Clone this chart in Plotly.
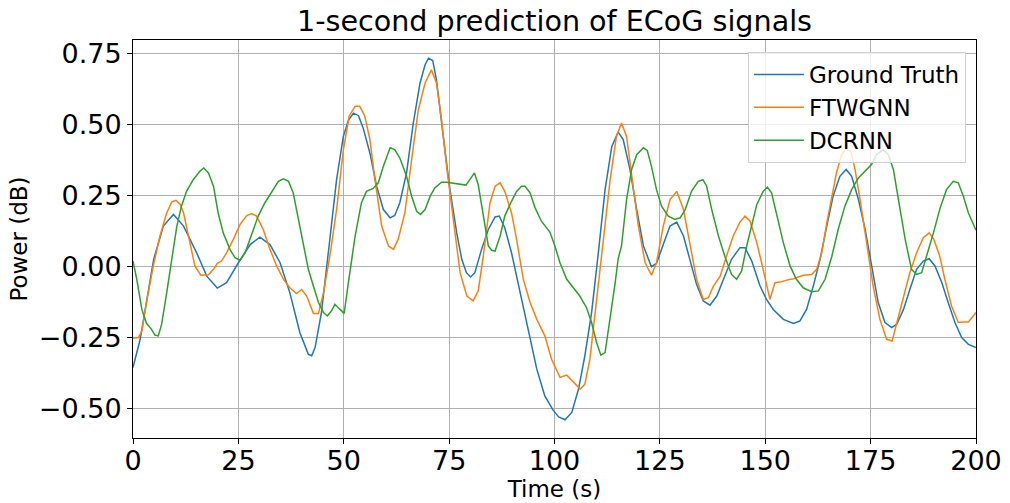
import plotly.graph_objects as go

# ---- data ----
gt_t = [0, 1.7, 3.3, 4.9, 7.2, 9.6, 12, 15.1, 17.5, 20, 22.2, 25, 27.8, 30.1, 32.5, 34.9, 37.2, 39.6,
        41.6, 42.4, 43.2, 44.7, 46.7, 48.3, 49.9, 51.1, 52.3, 53.5, 54.6, 56.2, 57.8, 59.4, 61, 62.1,
        63.3, 64.9, 66.5, 68.1, 69.3, 70.1, 71.1, 72.0, 73.6, 75.2, 76.8, 78, 79.1, 80.1, 81.1, 82.7,
        84.3, 85.9, 86.9, 88.2, 89.8, 91.8, 93.8, 95.8, 97.7, 99.7, 101, 102.5, 104.1, 105.7, 107.2,
        108.8, 110.4, 112, 113.6, 115.1, 116.3, 117.9, 119.5, 121.1, 123.0, 124.2, 125.8, 127.4, 129,
        130.6, 132.1, 133.7, 135.3, 136.9, 138.5, 140.1, 142, 144, 145.2, 146.8, 148.7, 150.3, 151.9,
        154.3, 156.7, 158.2, 159.8, 161.4, 163, 164.6, 166.1, 167.7, 169.2, 170.5, 172.1, 173.7, 175.2,
        176.8, 178.4, 180, 181.2, 182.8, 184.3, 185.9, 187.5, 188.9, 190.3, 191.9, 193.4, 195, 196.6,
        198.2, 200]
gt_v = [-0.354, -0.255, -0.115, 0.026, 0.143, 0.184, 0.143, 0.049, -0.033, -0.075, -0.056, 0.014, 0.078,
        0.104, 0.078, 0.014, -0.091, -0.232, -0.308, -0.313, -0.284, -0.161, 0.096, 0.306, 0.458, 0.515,
        0.540, 0.531, 0.488, 0.400, 0.283, 0.201, 0.172, 0.180, 0.225, 0.330, 0.505, 0.646, 0.710, 0.733,
        0.725, 0.657, 0.458, 0.271, 0.119, 0.026, -0.021, -0.036, -0.021, 0.061, 0.131, 0.175, 0.178,
        0.137, 0.049, -0.091, -0.232, -0.360, -0.454, -0.505, -0.528, -0.538, -0.512, -0.430, -0.313,
        -0.161, 0.049, 0.271, 0.423, 0.473, 0.447, 0.342, 0.201, 0.073, 0.0, 0.012, 0.078, 0.143, 0.157,
        0.108, 0.026, -0.062, -0.120, -0.135, -0.103, -0.044, 0.026, 0.067, 0.067, 0.020, -0.065, -0.115,
        -0.150, -0.185, -0.199, -0.191, -0.150, -0.068, 0.026, 0.143, 0.248, 0.318, 0.342, 0.318, 0.237,
        0.131, 0.002, -0.126, -0.196, -0.214, -0.202, -0.150, -0.080, -0.009, 0.020, 0.028, 0.002,
        -0.056, -0.126, -0.196, -0.249, -0.273, -0.284]

ft_t = [0, 1.3, 2.1, 3.2, 4.8, 6.4, 8.0, 9.2, 10.2, 11.2, 12.0, 13.1, 14.7, 16.1, 17.9, 19.1, 20, 21,
        22.2, 23.8, 25.4, 27.0, 28.2, 29.3, 30.9, 32.5, 34.1, 35.7, 37.2, 38.8, 40.0, 41.2, 42.8, 44,
        45.2, 46.7, 48.3, 49.9, 51.3, 52.7, 53.8, 55, 56.2, 57.4, 59, 60.6, 61.8, 62.9, 64.5, 66.1, 67.7,
        69.3, 70.8, 72, 73.2, 74.4, 76, 77.6, 79.2, 80.7, 81.9, 83.1, 84.7, 85.9, 87.1, 88.2, 89.8, 91,
        92.6, 94.2, 95.8, 97.7, 99.3, 100.1, 101.3, 102.9, 104.5, 106.1, 107.2, 108.4, 110, 111.6, 113.2,
        114.7, 115.9, 117.1, 118.3, 119.9, 121.5, 123.0, 124.2, 125.8, 127.4, 129, 130.6, 132.1, 133.7,
        135.3, 136.5, 137.7, 139.3, 140.8, 142.4, 144, 145.2, 146.4, 148, 149.5, 151.1, 152.3, 153.5,
        155.1, 156.7, 159, 161, 162.2, 163.4, 164.6, 165.8, 166.9, 168.1, 169.2, 170.3, 171.3, 172.5,
        174.1, 175.6, 177.2, 178.8, 180.1, 181.2, 182.8, 184.3, 185.9, 187.5, 188.9, 190, 191.4, 192.6,
        194.2, 195.8, 197, 198.2, 200]
ft_v = [-0.251, -0.249, -0.226, -0.126, 0.002, 0.108, 0.189, 0.228, 0.233, 0.219, 0.189, 0.108, 0.002,
        -0.030, -0.028, -0.009, 0.012, 0.020, 0.049, 0.096, 0.149, 0.180, 0.187, 0.178, 0.131, 0.061,
        0.002, -0.044, -0.074, -0.094, -0.080, -0.103, -0.164, -0.164, -0.091, 0.037, 0.201, 0.410,
        0.530, 0.564, 0.564, 0.529, 0.447, 0.306, 0.143, 0.073, 0.061, 0.096, 0.189, 0.376, 0.552, 0.646,
        0.692, 0.646, 0.517, 0.353, 0.166, -0.021, -0.103, -0.120, -0.085, 0.037, 0.225, 0.283, 0.295,
        0.265, 0.189, 0.096, -0.044, -0.126, -0.185, -0.243, -0.325, -0.349, -0.389, -0.381, -0.407,
        -0.430, -0.413, -0.325, -0.115, 0.096, 0.306, 0.458, 0.505, 0.458, 0.330, 0.143, 0.014, -0.030,
        0.014, 0.143, 0.236, 0.265, 0.201, 0.084, -0.044, -0.115, -0.109, -0.068, -0.033, 0.037, 0.108,
        0.157, 0.178, 0.160, 0.084, -0.009, -0.115, -0.056, -0.054, -0.047, -0.042, -0.030, -0.027,
        -0.009, 0.049, 0.154, 0.248, 0.330, 0.394, 0.414, 0.406, 0.342, 0.236, 0.073, -0.068, -0.185,
        -0.255, -0.261, -0.196, -0.103, -0.021, 0.049, 0.102, 0.119, 0.096, 0.037, -0.044, -0.138,
        -0.196, -0.194, -0.194, -0.161]

dc_t = [0, 0.9, 2.1, 3.2, 4.4, 5.2, 6.0, 6.8, 8, 9.2, 10.4, 11.5, 12.7, 14.3, 15.9, 16.8, 17.9, 19.1,
        20.2, 21.4, 23, 24.2, 25.4, 26.6, 28.2, 29.7, 31.3, 32.9, 34.5, 35.7, 36.9, 38.0, 39.2, 40.4,
        41.6, 42.8, 44, 45.2, 46.1, 47.1, 47.9, 49.1, 50.1, 51.1, 52.7, 54.2, 55.4, 57, 58.2, 59.4, 61,
        62.1, 63.3, 64.9, 66.1, 67.3, 68.2, 69.3, 70.5, 71.6, 73.2, 74.4, 76.8, 79, 79.9, 81, 81.9, 83.1,
        84.3, 85.1, 85.9, 87.1, 88.2, 89.8, 91, 92.2, 93, 94.2, 95.4, 96.9, 98.9, 100.1, 101.3, 102.9,
        104.5, 106.0, 107.6, 108.8, 110, 111.0, 112, 113.2, 114.4, 115.1, 115.9, 117.1, 118.3, 119.5,
        121.1, 122, 123.0, 124.2, 125.4, 127, 128.6, 129.8, 131, 132.5, 134.1, 135.2, 136.1, 137.3,
        138.9, 140.4, 142, 143.2, 144.4, 145.6, 146.8, 148, 149.5, 150.5, 151.5, 152.7, 154.3, 155.9,
        157.4, 159, 161, 162.6, 164.2, 165.8, 167.3, 168.9, 170.5, 172.1, 173.7, 175.2, 176.4, 178,
        179.2, 180.4, 181.6, 183.2, 184.7, 185.9, 187.1, 188.3, 189.9, 191.5, 193.0, 194.6, 195.8, 197,
        198.2, 200]
dc_v = [0.020, -0.044, -0.150, -0.199, -0.220, -0.240, -0.243, -0.202, -0.091, 0.026, 0.143, 0.213,
        0.265, 0.306, 0.336, 0.347, 0.330, 0.283, 0.189, 0.119, 0.061, 0.032, 0.023, 0.049, 0.119, 0.178,
        0.225, 0.265, 0.300, 0.309, 0.300, 0.260, 0.166, 0.073, -0.009, -0.068, -0.126, -0.161, -0.173,
        -0.155, -0.132, -0.150, -0.164, -0.056, 0.108, 0.225, 0.265, 0.275, 0.295, 0.353, 0.418, 0.412,
        0.382, 0.318, 0.248, 0.195, 0.184, 0.201, 0.248, 0.277, 0.297, 0.297, 0.292, 0.287, 0.306, 0.330,
        0.289, 0.178, 0.073, 0.058, 0.055, 0.108, 0.178, 0.230, 0.265, 0.283, 0.283, 0.260, 0.207, 0.160,
        0.122, 0.073, 0.014, -0.044, -0.074, -0.103, -0.144, -0.196, -0.267, -0.311, -0.302, -0.185,
        -0.056, 0.028, 0.073, 0.236, 0.342, 0.394, 0.418, 0.409, 0.353, 0.271, 0.213, 0.178, 0.166, 0.172,
        0.201, 0.265, 0.300, 0.306, 0.283, 0.201, 0.108, 0.037, -0.027, -0.044, -0.015, 0.073, 0.143,
        0.219, 0.265, 0.280, 0.260, 0.189, 0.084, 0.002, -0.044, -0.074, -0.088, -0.085, -0.044, 0.037,
        0.131, 0.213, 0.271, 0.312, 0.336, 0.359, 0.394, 0.412, 0.394, 0.342, 0.236, 0.096, -0.009,
        -0.027, -0.021, 0.037, 0.119, 0.207, 0.271, 0.300, 0.295, 0.248, 0.189, 0.128]

series_names = ["Ground Truth", "FTWGNN", "DCRNN"]
series_colors = ["#1f77b4", "#ff7f0e", "#2ca02c"]
x_ticks = [0, 25, 50, 75, 100, 125, 150, 175, 200]
y_ticks = [-0.5, -0.25, 0.0, 0.25, 0.5, 0.75]

FONT = "DejaVu Sans"

fig = go.Figure()
for name, color, t, v in zip(series_names, series_colors, [gt_t, ft_t, dc_t], [gt_v, ft_v, dc_v]):
    fig.add_trace(go.Scatter(x=t, y=v, mode="lines", name=name,
                             line=dict(color=color, width=1.5)))

axis_common = dict(showline=True, mirror=True, linecolor="black", linewidth=1,
                   ticks="outside", ticklen=5, tickcolor="black", tickwidth=1,
                   showgrid=True, gridcolor="#b0b0b0", gridwidth=1, zeroline=False,
                   automargin=False,
                   tickfont=dict(family=FONT, size=27, color="black"))

fig.update_layout(
    width=1010, height=503,
    margin=dict(l=133, r=34, t=40, b=65),
    paper_bgcolor="white", plot_bgcolor="white",
    font=dict(family=FONT, color="black"),
    title=dict(text="1-second prediction of ECoG signals", x=(133 + 976) / 2 / 1010, xanchor="center",
               xref="container", yref="container", y=1 - 21 / 503, yanchor="middle",
               font=dict(family=FONT, size=28.6, color="black")),
    xaxis=dict(range=[0, 200], tickvals=x_ticks, ticktext=[str(t) for t in x_ticks],
               ticklabelstandoff=-6,
               title=dict(text="Time (s)", font=dict(family=FONT, size=23), standoff=0),
               **axis_common),
    yaxis=dict(range=[-0.602, 0.797], tickvals=y_ticks,
               ticktext=[("\u2212" if v < 0 else "") + f"{abs(v):.2f}" for v in y_ticks],
               title=dict(text="Power (dB)", font=dict(family=FONT, size=23), standoff=4),
               **axis_common),
    legend=dict(x=0.988, y=0.97, xanchor="right", yanchor="top", itemwidth=50,
                bgcolor="rgba(255,255,255,0.8)", bordercolor="#d0d0d0", borderwidth=1,
                font=dict(family=FONT, size=23, color="black")),
    showlegend=True,
)

fig.write_html("out.html", config={"displayModeBar": False},
               post_script="document.body.style.margin='0';document.body.style.overflow='hidden';")
